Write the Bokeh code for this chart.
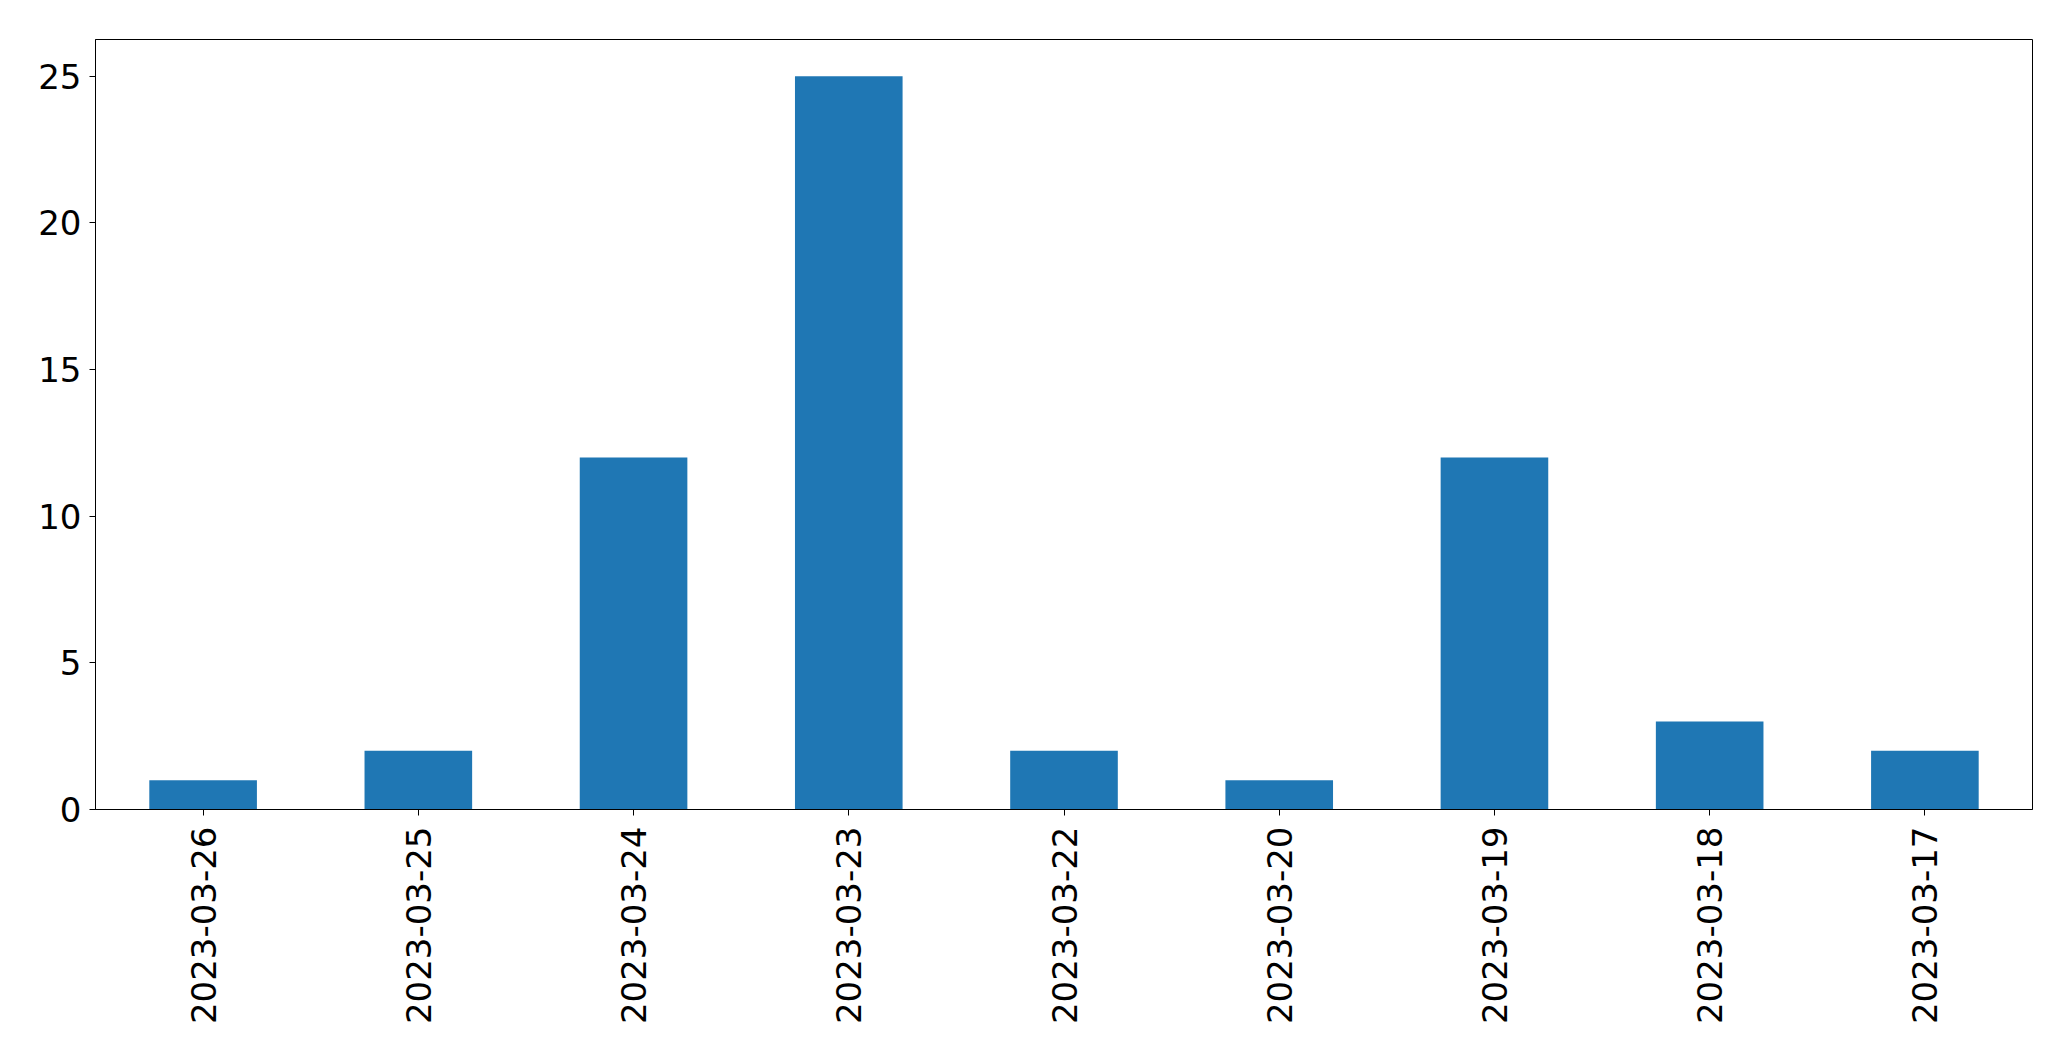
import math
from bokeh.plotting import figure
from bokeh.models import FactorRange, Range1d, FixedTicker, ColumnDataSource
from bokeh.embed import file_html
from bokeh.resources import INLINE

dates = ["2023-03-26", "2023-03-25", "2023-03-24", "2023-03-23", "2023-03-22",
         "2023-03-20", "2023-03-19", "2023-03-18", "2023-03-17"]
counts = [1, 2, 12, 25, 2, 1, 12, 3, 2]
y_ticks = [0, 5, 10, 15, 20, 25]

src = ColumnDataSource(dict(date=dates, count=counts))

p = figure(
    width=2063, height=1053,
    x_range=FactorRange(*dates), y_range=Range1d(0, 26.25),
    output_backend="svg", toolbar_location=None,
    min_border_left=95, min_border_right=31, min_border_top=39, min_border_bottom=244,
)
p.vbar(x="date", top="count", width=0.5, source=src,
       fill_color="#1f77b4", line_color=None)

p.xgrid.visible = False
p.ygrid.visible = False
p.outline_line_color = "black"
p.outline_line_width = 1
p.outline_line_alpha = 1
p.background_fill_color = "white"
p.border_fill_color = "white"

for ax in (p.xaxis[0], p.yaxis[0]):
    ax.major_label_text_font = "DejaVu Sans"
    ax.major_label_text_font_size = "34px"
    ax.major_label_text_color = "black"
    ax.major_tick_in = 0
    ax.major_tick_out = 6
    ax.major_tick_line_color = "black"
    ax.minor_tick_line_color = None
    ax.axis_line_color = "black"

p.yaxis[0].ticker = FixedTicker(ticks=y_ticks)
p.yaxis[0].major_label_standoff = 8
p.xaxis[0].major_label_orientation = math.pi / 2
p.xaxis[0].major_label_standoff = 11

open("out.html", "w").write(file_html(p, INLINE))
